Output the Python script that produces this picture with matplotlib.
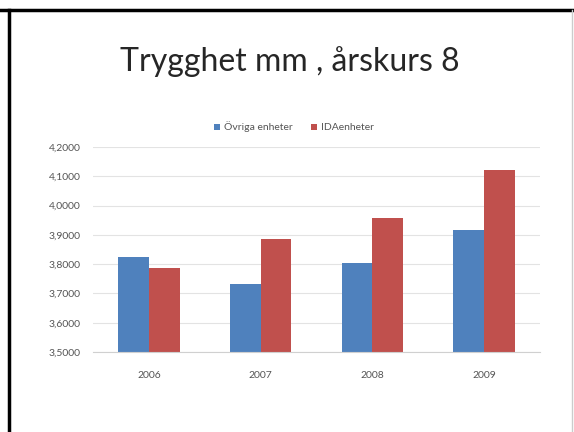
import matplotlib
matplotlib.use("Agg")
import matplotlib.pyplot as plt
import numpy as np
from matplotlib.lines import Line2D

years = ["2006", "2007", "2008", "2009"]
ovriga = [3.825, 3.733, 3.805, 3.918]
idaenheter = [3.788, 3.887, 3.959, 4.123]
yticks = [3.5, 3.6, 3.7, 3.8, 3.9, 4.0, 4.1, 4.2]

W, H = 574, 432
fig = plt.figure(figsize=(W/100, H/100), dpi=100)
plt.rcParams['font.family'] = ['Lato', 'DejaVu Sans']

# frame lines
fig.add_artist(Line2D([0, 1], [1-10/H, 1-10/H], color='black', lw=2.5, transform=fig.transFigure))
fig.add_artist(Line2D([9/W, 9/W], [0, 1-10/H], color='black', lw=2.5, transform=fig.transFigure))
fig.add_artist(Line2D([572/W, 572/W], [0, 1-10/H], color='#cccccc', lw=1, transform=fig.transFigure))

ax = fig.add_axes([93/W, 1-352/H, (540-93)/W, (352-147)/H])
x = np.arange(len(years))
bw = 0.275
ax.bar(x - bw/2, ovriga, bw, color='#4F81BD', label='Övriga enheter')
ax.bar(x + bw/2, idaenheter, bw, color='#C0504D', label='IDAenheter')
ax.set_xlim(-0.5, 3.5)
ax.set_ylim(3.5, 4.2)
ax.set_yticks(yticks)
ax.set_yticklabels([f"{v:.4f}".replace('.', ',') for v in yticks], fontsize=7.5, color='#555555')
ax.set_xticks(x)
ax.set_xticklabels(years, fontsize=7.5, color='#555555')
ax.yaxis.grid(True, color='#e3e3e3', lw=0.8)
ax.set_axisbelow(True)
for s in ['left', 'right', 'top']:
    ax.spines[s].set_visible(False)
ax.spines['bottom'].set_color('#d0d0d0')
ax.tick_params(axis='y', length=0, pad=9)
ax.tick_params(axis='x', length=0, pad=14)

fig.text(290/W, 1-62/H, "Trygghet mm , årskurs 8", ha='center', va='center', fontsize=23, color='#262626')
leg = fig.legend(loc='center', bbox_to_anchor=(294/W, 1-127/H), ncol=2, frameon=False, fontsize=7.5,
                 handlelength=0.55, handleheight=0.55, columnspacing=1.8, handletextpad=0.35)
for t in leg.get_texts():
    t.set_color('#555555')

fig.savefig("out.png", dpi=100, facecolor='white')
